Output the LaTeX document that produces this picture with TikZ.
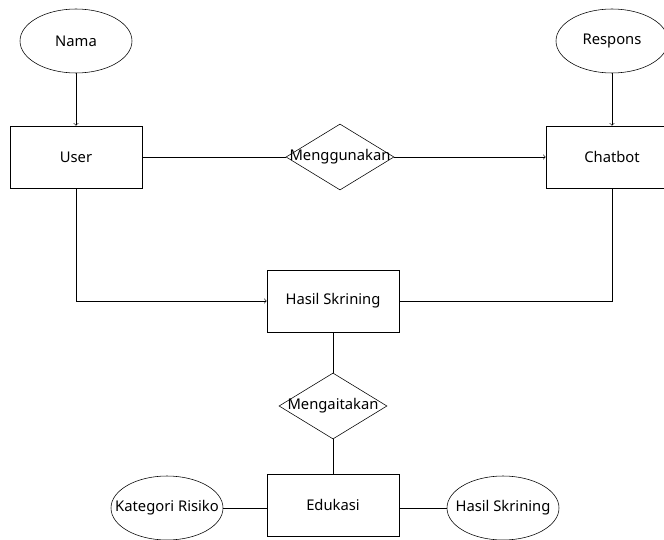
\documentclass[tikz,border=0pt]{standalone}
\usepackage{fontspec}
\setmainfont{Noto Sans}
\usepackage{tikz}
\usetikzlibrary{shapes.geometric}

\begin{document}
\begin{tikzpicture}[
        font=\fontsize{10.5}{12}\selectfont,
        entity/.style={rectangle, draw, minimum width=3.3cm, minimum height=1.55cm},
        attr/.style={ellipse, draw, minimum width=2.8cm, minimum height=1.6cm, inner sep=0pt, label=center:{#1}},
        rel/.style={diamond, draw, minimum width=2.7cm, minimum height=1.65cm, inner sep=0pt, label=center:{#1}}
    ]
    \useasboundingbox (0,0) rectangle (16.6,13.475);

    % Entities
    \node[entity] (User) at (1.9,9.55) {User};
    \node[entity] (Chatbot) at (15.3,9.55) {Chatbot};
    \node[entity] (Hasil) at (8.325,5.95) {Hasil Skrining};
    \node[entity] (Edukasi) at (8.325,0.85) {Edukasi};

    % Attributes (text laid over the ellipse)
    \node[attr=Nama] (Nama) at (1.9,12.45) {};
    \node[attr=Respons] (Respons) at (15.3,12.45) {};
    \node[attr={Kategori Risiko}] (Kategori) at (4.175,0.775) {};
    \node[attr={Hasil Skrining}] (HasilAttr) at (12.575,0.775) {};

    % Relations (text laid over the diamond)
    \node[rel=Menggunakan] (Menggunakan) at (8.5,9.55) {};
    \node[rel=Mengaitakan] (Mengaitakan) at (8.325,3.325) {};

    % Connectors
    \draw[->] (Nama) -- (User);
    \draw[->] (Respons) -- (Chatbot);
    \draw (User) -- (Menggunakan);
    \draw[->] (Menggunakan) -- (Chatbot);
    \draw[->] (User) |- (Hasil);
    \draw (Chatbot) |- (Hasil);
    \draw (Hasil) -- (Mengaitakan);
    \draw (Mengaitakan) -- (Edukasi);
    \draw (Kategori) -- (Kategori -| Edukasi.west);
    \draw (HasilAttr) -- (HasilAttr -| Edukasi.east);

\end{tikzpicture}
\end{document}
